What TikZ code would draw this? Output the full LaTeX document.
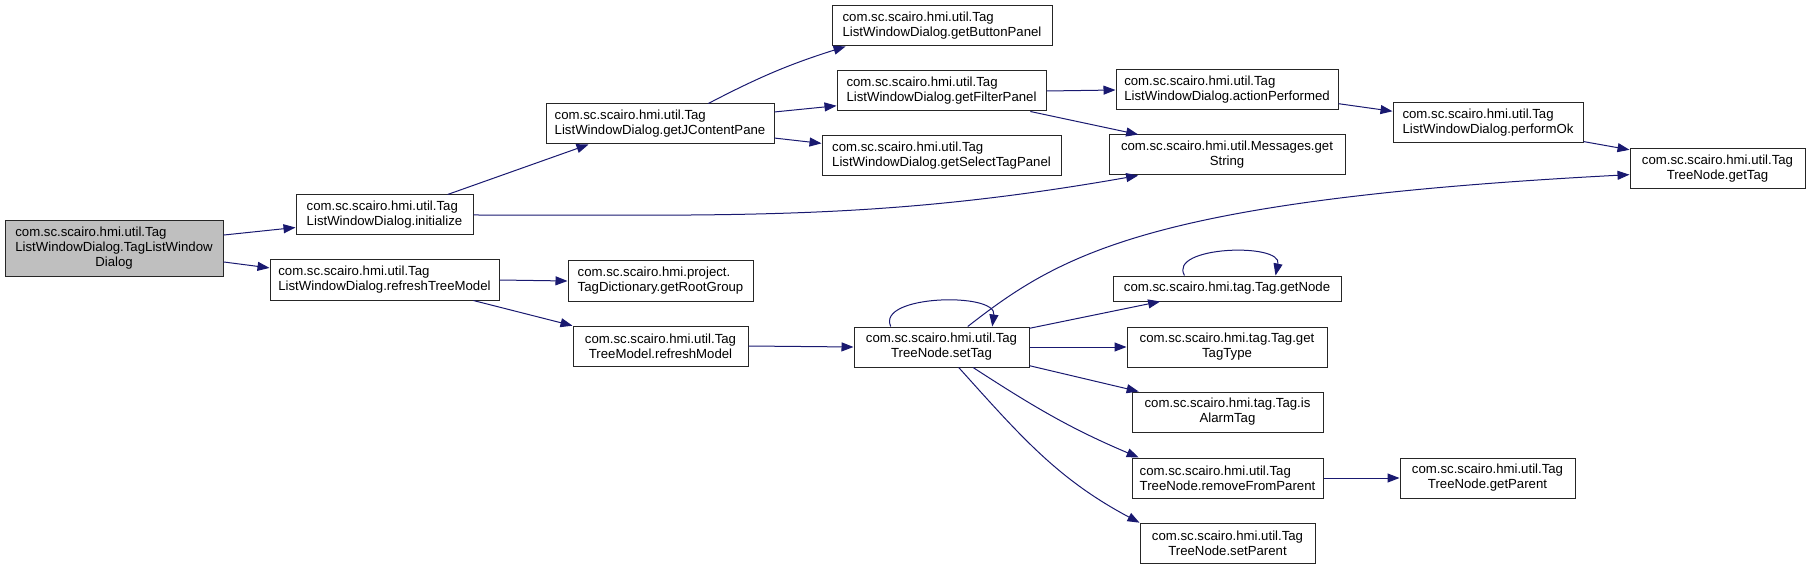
\documentclass[tikz,border=0pt]{standalone}
\usepackage{fontspec}
\setmainfont{Liberation Sans}
\usepackage{tikz}
\usetikzlibrary{arrows.meta,positioning}
\usepackage{xcolor}
\definecolor{edgeblue}{HTML}{191970}
\definecolor{rootgray}{HTML}{BFBFBF}

\begin{document}
\begin{tikzpicture}[x=1pt, y=-1pt,
  fn/.style={rectangle, draw=black!85, line width=1pt, fill=white, inner sep=0pt, minimum height=40pt, font=\fontsize{13.2pt}{15pt}\selectfont, align=#1},
  fn/.default=left,
  arr/.style={-{Triangle[length=12pt,width=9pt]}, line width=1pt, edgeblue}
]
  \useasboundingbox (0,0) rectangle (1811,569);
  \node[fn, fill=rootgray, minimum width=218pt, minimum height=55pt] (root) at (114,248.5) {\begin{tabular}{@{}l@{}}com.sc.scairo.hmi.util.Tag\\ListWindowDialog.TagListWindow\\\multicolumn{1}{@{}c@{}}{Dialog}\end{tabular}};
  \node[fn, minimum width=177pt] (init) at (384.5,215) {com.sc.scairo.hmi.util.Tag\\ListWindowDialog.initialize};
  \node[fn, minimum width=229pt] (rtm) at (384.5,280) {com.sc.scairo.hmi.util.Tag\\ListWindowDialog.refreshTreeModel};
  \node[fn, minimum width=228pt] (jcp) at (660,124) {com.sc.scairo.hmi.util.Tag\\ListWindowDialog.getJContentPane};
  \node[fn, minimum width=220pt] (btn) at (942,26) {com.sc.scairo.hmi.util.Tag\\ListWindowDialog.getButtonPanel};
  \node[fn, minimum width=209pt] (flt) at (941.5,91) {com.sc.scairo.hmi.util.Tag\\ListWindowDialog.getFilterPanel};
  \node[fn, minimum width=239pt] (sel) at (941.5,156) {com.sc.scairo.hmi.util.Tag\\ListWindowDialog.getSelectTagPanel};
  \node[fn, minimum width=222pt] (act) at (1227,90) {com.sc.scairo.hmi.util.Tag\\ListWindowDialog.actionPerformed};
  \node[fn=center, minimum width=236pt] (msg) at (1227,155) {com.sc.scairo.hmi.util.Messages.get\\String};
  \node[fn, minimum width=190pt] (pok) at (1488,123) {com.sc.scairo.hmi.util.Tag\\ListWindowDialog.performOk};
  \node[fn=center, minimum width=175pt] (gtag) at (1717.5,168.5) {com.sc.scairo.hmi.util.Tag\\TreeNode.getTag};
  \node[fn, minimum width=185pt] (rgrp) at (660.5,281) {com.sc.scairo.hmi.project.\\TagDictionary.getRootGroup};
  \node[fn=center, minimum width=175pt] (rmod) at (660.5,346) {com.sc.scairo.hmi.util.Tag\\TreeModel.refreshModel};
  \node[fn=center, minimum width=175pt] (stag) at (941.5,347) {com.sc.scairo.hmi.util.Tag\\TreeNode.setTag};
  \node[fn=center, minimum width=228pt, minimum height=25pt] (gnode) at (1227,288.5) {com.sc.scairo.hmi.tag.Tag.getNode};
  \node[fn=center, minimum width=200pt] (gtt) at (1227,347) {com.sc.scairo.hmi.tag.Tag.get\\TagType};
  \node[fn=center, minimum width=191pt] (alarm) at (1227.5,412) {com.sc.scairo.hmi.tag.Tag.is\\AlarmTag};
  \node[fn, minimum width=191pt] (rfp) at (1227.5,478) {com.sc.scairo.hmi.util.Tag\\TreeNode.removeFromParent};
  \node[fn=center, minimum width=175pt] (gpar) at (1487.5,478) {com.sc.scairo.hmi.util.Tag\\TreeNode.getParent};
  \node[fn=center, minimum width=175pt] (spar) at (1227.5,543) {com.sc.scairo.hmi.util.Tag\\TreeNode.setParent};
  % calls
  \draw[arr] (root.7) -- (init.188);
  \draw[arr] (root.353.5) -- (rtm.174);
  \draw[arr] (init.18) -- (jcp.196);
  \draw[arr] (init.east) to[out=0,in=190] (msg.193);
  \draw[arr] (jcp.23) to[bend left=5] (btn.192);
  \draw[arr] (jcp.6.5) -- (flt.188);
  \draw[arr] (jcp.353.5) -- (sel.174);
  \draw[arr] (flt.east) -- (act.west);
  \draw[arr] (flt.347) -- (msg.167);
  \draw[arr] (act.353) -- (pok.173);
  \draw[arr] (pok.349) -- (gtag.168);
  \draw[arr] (rtm.east) -- (rgrp.west);
  \draw[arr] (rtm.347) -- (rmod.167);
  \draw[arr] (rmod.east) -- (stag.west);
  \draw[arr] (stag.158) to[out=115,in=82,distance=35pt] (stag.22);
  \draw[arr] (stag.38) to[out=38,in=183,out distance=118pt,in distance=480pt] (gtag.184);
  \draw[arr] (stag.12) -- (gnode.191);
  \draw[arr] (gnode.163) to[out=120,in=78,distance=34pt] (gnode.15);
  \draw[arr] (stag.east) -- (gtt.west);
  \draw[arr] (stag.348) -- (alarm.167);
  \draw[arr] (stag.327) to[out=-33,in=157] (rfp.167);
  \draw[arr] (stag.310) to[out=-48,in=152] (spar.167);
  \draw[arr] (rfp.east) -- (gpar.west);
\end{tikzpicture}
\end{document}
